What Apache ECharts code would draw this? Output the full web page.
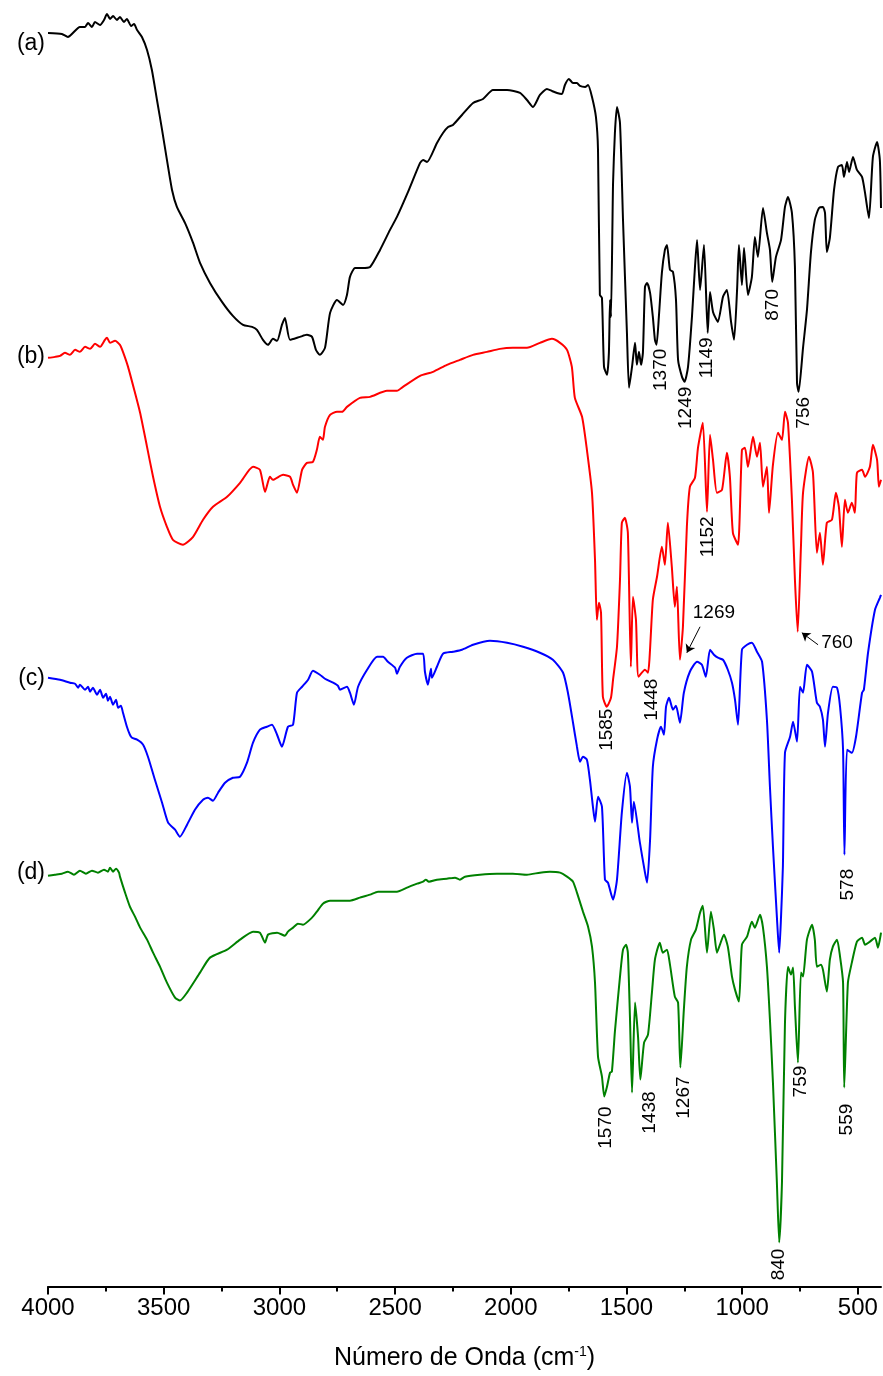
<!DOCTYPE html>
<html><head><meta charset="utf-8">
<script src="https://cdn.jsdelivr.net/npm/echarts@6/dist/echarts.min.js"></script>
<style>html,body{margin:0;padding:0;background:#fff}#c{width:883px;height:1376px}</style>
</head><body><div id="c"></div>
<script>
// Wavenumbers (cm-1) and offset transmittance (a.u.) for each spectrum
const wnA=[4000,3940,3914,3862,3840,3827,3810,3797,3775,3758,3745,3732,3719,3702,3689,3672,3659,3641,3628,3615,3594,3572,3551,3529,3507,3486,3464,3443,3408,3373,3343,3300,3248,3201,3157,3118,3097,3071,3049,3028,3010,2989,2976,2954,2911,2881,2859,2842,2825,2803,2781,2751,2725,2708,2695,2673,2643,2608,2565,2522,2492,2444,2392,2379,2362,2319,2293,2271,2250,2211,2163,2120,2077,2016,1960,1930,1904,1874,1844,1822,1800,1779,1766,1749,1731,1714,1701,1679,1666,1649,1632,1623,1615,1606,1597,1584,1576,1571,1567,1558,1550,1541,1528,1515,1498,1489,1476,1463,1455,1446,1437,1429,1420,1411,1398,1386,1377,1370,1360,1347,1334,1325,1312,1299,1286,1277,1260,1249,1234,1217,1204,1195,1182,1165,1149,1139,1126,1105,1083,1066,1048,1035,1022,1014,1001,992,975,958,945,932,910,893,880,870,854,832,815,802,785,772,763,756,737,720,703,686,668,651,642,634,621,603,586,569,560,547,538,521,504,482,469,452,435,417,405,400];
const tA=[1254,1253,1250,1260,1260,1264,1260,1265,1262,1267,1273,1268,1271,1267,1270,1265,1268,1261,1263,1257,1250,1237,1217,1187,1157,1127,1097,1080,1064,1044,1024,1004,985,971,962,960,957,947,942,948,946,962,969,947,950,952,950,937,932,939,974,987,982,992,1010,1019,1019,1020,1037,1057,1070,1095,1124,1127,1125,1144,1154,1160,1162,1172,1184,1188,1197,1197,1194,1187,1180,1192,1198,1196,1194,1193,1202,1208,1204,1204,1201,1200,1202,1190,1170,1137,992,989,920,912,934,987,970,1104,1154,1180,1164,1067,954,899,920,944,922,935,922,934,1000,1004,994,970,947,942,970,1014,1037,1042,1017,1015,987,927,910,905,920,970,1020,1047,997,1042,954,995,975,965,990,997,965,947,997,1042,1002,1039,992,1010,1050,1030,1079,1054,1037,1005,1030,1047,1080,1090,1074,1020,904,895,939,977,1034,1067,1079,1080,1074,1035,1049,1097,1120,1122,1110,1125,1115,1130,1117,1110,1094,1069,1130,1145,1127,1079];

const wnB=[4000,3970,3948,3927,3905,3883,3862,3840,3818,3797,3775,3754,3745,3732,3710,3689,3676,3654,3624,3602,3572,3546,3516,3486,3460,3417,3373,3330,3287,3226,3170,3114,3084,3062,3041,3028,2984,2954,2941,2924,2902,2881,2855,2838,2825,2812,2803,2781,2751,2729,2708,2652,2608,2535,2492,2466,2392,2336,2276,2220,2163,2103,2047,1991,1930,1874,1822,1787,1757,1736,1723,1692,1671,1649,1636,1628,1619,1610,1602,1585,1567,1558,1541,1528,1520,1507,1494,1481,1472,1459,1448,1420,1407,1386,1368,1347,1334,1321,1304,1291,1282,1269,1256,1239,1226,1204,1191,1170,1152,1139,1126,1109,1087,1066,1053,1040,1018,1001,988,975,953,936,923,910,893,884,867,845,828,815,802,785,772,760,746,737,711,694,677,664,651,634,612,595,582,569,556,543,526,513,504,482,469,448,435,417,409,400];
const tB=[929,930,931,934,932,937,935,940,938,943,940,947,949,944,946,942,935,920,894,874,840,810,780,760,747,742,750,767,780,790,804,820,817,795,810,807,812,810,802,794,817,824,825,837,850,847,860,872,875,875,880,889,890,896,896,900,911,915,922,927,932,935,938,939,939,944,948,944,937,920,889,870,837,794,727,667,684,674,590,580,589,607,640,707,764,769,754,620,690,667,610,617,614,687,710,740,722,764,720,680,700,627,660,760,800,809,839,864,775,852,827,794,797,834,810,754,742,837,839,820,850,830,844,800,820,774,822,854,847,875,864,787,707,655,740,794,830,814,734,754,722,764,767,794,780,740,787,774,784,774,814,817,810,820,842,827,800,807];

const wnC=[4000,3948,3905,3883,3870,3862,3840,3827,3818,3806,3788,3775,3762,3749,3741,3732,3719,3706,3697,3685,3676,3659,3646,3637,3615,3589,3568,3538,3507,3481,3451,3430,3399,3365,3330,3309,3287,3265,3235,3201,3170,3140,3114,3084,3054,3032,3010,2989,2963,2941,2924,2902,2876,2855,2825,2803,2768,2747,2738,2708,2695,2678,2660,2621,2578,2552,2531,2500,2492,2479,2449,2405,2379,2371,2358,2345,2341,2319,2293,2250,2211,2163,2090,2016,1947,1874,1818,1774,1753,1731,1714,1701,1688,1671,1658,1645,1636,1623,1606,1593,1580,1558,1541,1520,1498,1485,1476,1468,1442,1420,1411,1398,1386,1368,1351,1338,1329,1316,1299,1286,1269,1252,1226,1195,1174,1157,1139,1122,1105,1083,1062,1044,1031,1018,1001,979,958,936,914,893,880,867,850,840,832,824,815,793,780,763,750,737,720,698,677,664,651,642,629,608,590,577,564,558,547,526,508,482,474,456,426,405,400];
const tC=[609,607,604,603,599,602,597,600,595,599,592,597,589,593,586,590,582,587,579,581,574,560,552,549,547,542,530,507,484,464,457,450,462,477,487,489,486,494,504,509,510,524,544,557,560,562,552,540,560,562,594,600,607,616,612,608,604,601,597,600,594,582,600,617,630,630,625,619,613,620,629,633,633,615,602,618,609,620,633,635,637,642,646,644,640,634,627,614,594,564,540,525,530,527,507,480,465,490,480,407,404,387,407,474,514,500,464,485,444,414,404,447,520,547,560,552,580,589,577,581,564,594,615,625,622,610,637,632,629,627,617,604,587,562,637,642,644,635,625,567,500,440,370,334,370,420,534,550,565,545,600,594,622,615,584,580,567,540,574,600,599,580,537,432,537,534,550,594,597,634,677,689,692];

const wnD=[4000,3970,3940,3914,3888,3862,3836,3810,3784,3758,3741,3732,3719,3706,3693,3689,3667,3646,3624,3602,3572,3546,3516,3486,3451,3430,3399,3343,3300,3226,3170,3114,3084,3062,3049,3010,2976,2963,2941,2920,2898,2859,2838,2812,2781,2738,2695,2652,2608,2574,2535,2492,2449,2405,2379,2367,2354,2319,2276,2241,2220,2198,2133,2060,1991,1930,1874,1831,1787,1757,1731,1714,1688,1666,1649,1636,1623,1606,1596,1584,1571,1563,1550,1528,1515,1502,1494,1485,1476,1463,1450,1440,1424,1407,1390,1377,1356,1343,1325,1312,1291,1277,1267,1252,1239,1221,1200,1182,1170,1152,1135,1122,1109,1096,1079,1062,1044,1031,1014,1001,979,958,945,923,910,893,880,867,850,840,828,815,802,789,780,772,759,746,737,720,698,686,677,660,651,634,621,608,590,577,564,559,543,526,504,482,469,448,426,413,400];
const tD=[411,412,413,415,412,416,413,416,414,417,415,419,415,418,414,410,394,380,370,359,347,334,320,304,289,286,294,314,329,337,347,355,354,344,352,354,351,355,359,363,362,369,375,383,386,386,386,389,392,395,395,395,399,403,405,407,405,407,408,409,407,410,412,413,413,412,414,415,414,410,405,394,375,360,340,304,230,210,190,200,214,215,255,310,337,342,334,270,194,284,250,207,244,252,294,327,344,334,337,322,290,284,219,277,320,347,357,374,381,334,375,357,334,342,352,340,310,297,285,342,350,365,359,372,359,320,267,204,104,44,104,264,320,312,319,280,224,314,310,347,362,347,320,322,317,295,327,340,347,330,304,199,304,324,345,349,342,345,349,339,354];

// Sample labels and their anchor levels (left end of each trace)
const sampleNames=['(a)','(b)','(c)','(d)'];
const sampleLevels=[1243,930,608,414];
const seriesColors=['#000000','#ff0000','#0000ff','#008000'];

// Peak annotations: text, wavenumber, level, rotation
const peakText=['1370','1249','1149','870','756','1152','1269','760','1448','1585','578','1570','1438','1267','759','559','840'];
const peakWn=[1351,1243,1152,867,733,1148,1122,590,1390,1584,543,1589,1398,1252,746,547,841];
const peakLevel=[917,879,929,982,874,750,674,644,587,557,402,159,174,189,205,167,22];
const peakRot=[90,90,90,90,90,90,0,0,90,90,90,90,90,90,90,90,90];

// Arrows (from -> to) for 1269 and 760
const arrowFrom=[[1182,660],[672,642]];
const arrowTo=[[1239,634],[742,654]];

const majorTicks=[500,1000,1500,2000,2500,3000,3500,4000];
const minorTicks=[750,1250,1750,2250,2750,3250,3750];

const FONT='"Liberation Sans", Arial, sans-serif';
const chart=echarts.init(document.getElementById('c'),null,{renderer:'canvas'});
const zip=(a,b)=>a.map((v,i)=>[v,b[i]]);
const traces=[[wnA,tA],[wnB,tB],[wnC,tC],[wnD,tD]];

const series=traces.map((t,i)=>({
  type:'line',data:zip(t[0],t[1]),showSymbol:false,symbol:'none',smooth:0.2,
  lineStyle:{color:seriesColors[i],width:2},itemStyle:{color:seriesColors[i]},
  animation:false,silent:true,z:2
}));
series.push({
  type:'scatter',symbolSize:0,silent:true,animation:false,clip:false,
  itemStyle:{opacity:1,color:'#000'},
  data:peakText.map((t,i)=>({value:[peakWn[i],peakLevel[i],t],label:{rotate:peakRot[i]}})),
  label:{show:true,position:'inside',formatter:p=>p.value[2],color:'#000',opacity:1,fontSize:19,fontFamily:FONT,align:'center',verticalAlign:'middle',textBorderWidth:0},
  markLine:{silent:true,animation:false,symbol:['none','arrow'],symbolSize:8,
    lineStyle:{color:'#000',width:1,type:'solid',opacity:1},label:{show:false},
    data:arrowFrom.map((f,i)=>[{coord:f},{coord:arrowTo[i]}])},
  z:5
});
series.push({
  type:'scatter',symbolSize:0,silent:true,animation:false,clip:false,
  itemStyle:{opacity:1,color:'#000'},
  data:sampleNames.map((n,i)=>({value:[4000,sampleLevels[i],n]})),
  label:{show:true,position:'left',distance:3,formatter:p=>p.value[2],color:'#000',opacity:1,fontSize:23,fontFamily:FONT,textBorderWidth:0},
  z:5
});

chart.setOption({
  backgroundColor:'#fff',animation:false,
  grid:{left:48,right:2,top:7,bottom:89,containLabel:false},
  xAxis:[{
    type:'value',min:400,max:4000,inverse:true,position:'bottom',
    axisLine:{show:true,lineStyle:{color:'#000',width:2}},
    axisTick:{show:true,inside:false,length:8,lineStyle:{color:'#000',width:2},customValues:majorTicks},
    axisLabel:{show:true,color:'#000',fontSize:24,fontFamily:FONT,margin:10,customValues:majorTicks,formatter:v=>String(v)},
    splitLine:{show:false},
    name:'Número de Onda (cm{sup|-1})',nameLocation:'middle',nameGap:59,
    nameTextStyle:{color:'#000',fontSize:25,fontFamily:FONT,rich:{sup:{fontSize:14,verticalAlign:'top',padding:[0,0,12,0],color:'#000',fontFamily:FONT}}}
  },{
    type:'value',min:400,max:4000,inverse:true,position:'bottom',
    axisLine:{show:false},
    axisTick:{show:true,inside:false,length:5,lineStyle:{color:'#000',width:2},customValues:minorTicks},
    axisLabel:{show:false},splitLine:{show:false}
  }],
  yAxis:{type:'value',min:0,max:1280,show:false,splitLine:{show:false}},
  series:series
});
</script></body></html>
